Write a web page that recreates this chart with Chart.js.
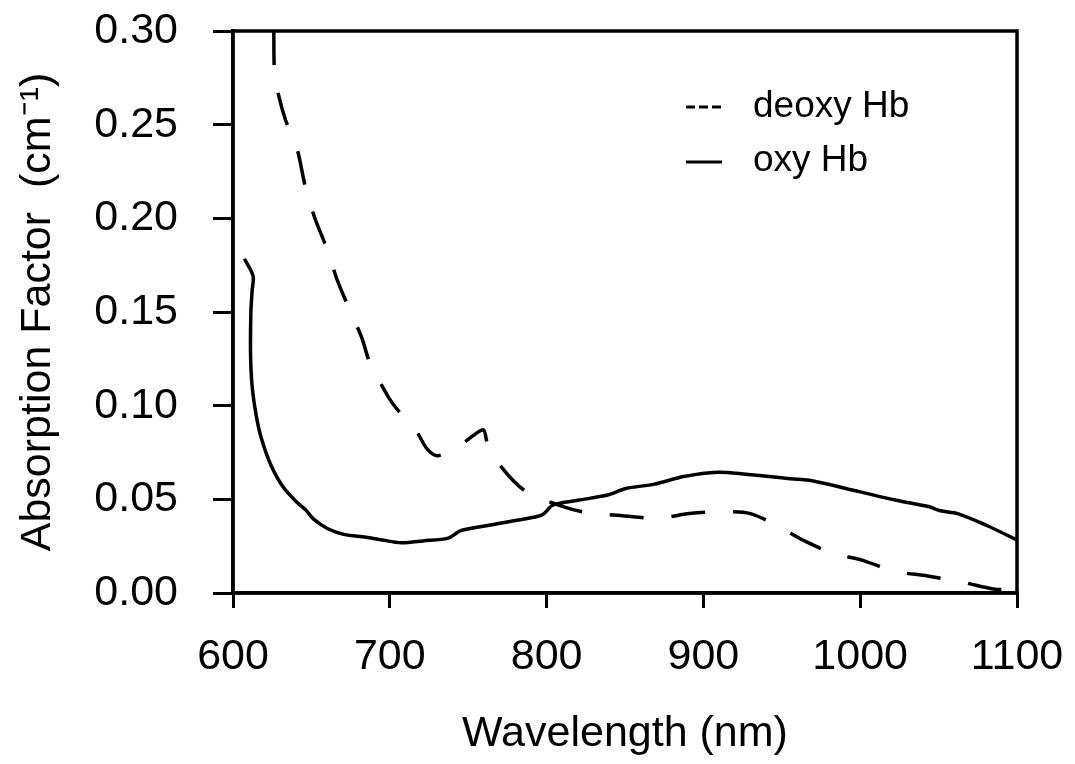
<!DOCTYPE html>
<html>
<head>
<meta charset="utf-8">
<script src="https://cdn.jsdelivr.net/npm/chart.js@4.4.1/dist/chart.umd.min.js"></script>
<style>
  html, body { margin: 0; padding: 0; background: #fff; }
  #wrap { width: 1075px; height: 764px; }
</style>
</head>
<body>
<div id="wrap"><canvas id="chart"></canvas></div>
<script>
const wavelengthTicks = [600, 700, 800, 900, 1000, 1100];
const absorptionTicks = [0, 0.05, 0.1, 0.15, 0.2, 0.25, 0.3];
const seriesLabels = ['deoxy Hb', 'oxy Hb'];

const deoxyWavelength = [626, 626.5, 629, 633.5, 641, 646, 652, 660, 666.5, 675, 682, 688, 694.5, 699.5, 705, 717.5, 724, 731, 747, 759.5, 762, 771.5, 787, 811, 826, 847, 871, 891, 912, 930, 948, 964.5, 982.5, 1000.5, 1022, 1043, 1066, 1086, 1096];
const deoxyAbsorption = [0.300, 0.278, 0.266, 0.2525, 0.2366, 0.2174, 0.2006, 0.1835, 0.167, 0.150, 0.1366, 0.1208, 0.1114, 0.104, 0.0977, 0.0855, 0.0767, 0.0733, 0.0802, 0.0872, 0.0808, 0.0669, 0.0541, 0.046, 0.0429, 0.0414, 0.0399, 0.0424, 0.0434, 0.0424, 0.0354, 0.0278, 0.0212, 0.0177, 0.0116, 0.0091, 0.0056, 0.002, 0.002];

const oxyWavelength = [607.3, 612.8, 612.2, 611.4, 611.2, 612.2, 614.8, 617.9, 624, 632.1, 641.3, 646.3, 651.4, 660.5, 670.7, 684.9, 695.1, 707.2, 721.1, 737.3, 745.2, 761.4, 791.6, 797.6, 804.2, 820.1, 838.9, 850.5, 868.8, 887.5, 909, 927.1, 955.4, 969.3, 999.4, 1023.1, 1044.1, 1051.1, 1062.2, 1081.1, 1100];
const oxyAbsorption = [0.1784, 0.1693, 0.1614, 0.150, 0.1272, 0.1104, 0.0948, 0.0831, 0.0686, 0.0564, 0.048, 0.0444, 0.0394, 0.0343, 0.0313, 0.0298, 0.0283, 0.0268, 0.0278, 0.0293, 0.0333, 0.0359, 0.0404, 0.0419, 0.047, 0.0495, 0.0523, 0.0558, 0.0581, 0.0622, 0.0645, 0.0634, 0.061, 0.0599, 0.0541, 0.0495, 0.046, 0.0439, 0.0424, 0.0359, 0.0283];

const toPoints = (xs, ys) => xs.map((x, i) => ({ x, y: ys[i] }));
const fontFamily = '"Liberation Sans", Arial, Helvetica, sans-serif';

Chart.defaults.font.family = fontFamily;
Chart.defaults.font.size = 43;
Chart.defaults.color = '#000';

// box round the plot plus the legend in the upper right corner
const frameAndLegend = {
    id: 'frameAndLegend',
    afterDraw(chart) {
        const { ctx, chartArea: a } = chart;
        ctx.save();
        ctx.strokeStyle = '#000';
        ctx.lineWidth = 3.5;
        ctx.strokeRect(a.left, a.top, a.right - a.left, a.bottom - a.top);

        const items = [
            { dash: [9, 4], lineY: 107, textY: 117 },
            { dash: [], lineY: 162, textY: 171 },
        ];
        ctx.font = `37px ${fontFamily}`;
        ctx.fillStyle = '#000';
        ctx.textBaseline = 'alphabetic';
        items.forEach((item, i) => {
            ctx.lineWidth = 3;
            ctx.setLineDash(item.dash);
            ctx.beginPath();
            ctx.moveTo(686, item.lineY);
            ctx.lineTo(722, item.lineY);
            ctx.stroke();
            ctx.setLineDash([]);
            ctx.fillText(seriesLabels[i], 753, item.textY);
        });
        ctx.restore();
    },
};

new Chart(document.getElementById('chart'), {
    type: 'line',
    data: {
        datasets: [
            {
                label: seriesLabels[0],
                data: toPoints(deoxyWavelength, deoxyAbsorption),
                borderColor: '#000',
                borderWidth: 3.5,
                borderDash: [34, 28],
                pointRadius: 0,
                tension: 0.3,
                fill: false,
            },
            {
                label: seriesLabels[1],
                data: toPoints(oxyWavelength, oxyAbsorption),
                borderColor: '#000',
                borderWidth: 3.5,
                pointRadius: 0,
                tension: 0.3,
                fill: false,
            },
        ],
    },
    options: {
        responsive: true,
        maintainAspectRatio: false,
        devicePixelRatio: 1,
        animation: false,
        layout: { padding: { top: 31, right: 58, left: 0, bottom: 0 } },
        scales: {
            x: {
                type: 'linear',
                min: 600,
                max: 1100,
                afterFit: (scale) => {
                    scale.height = 171;
                    scale.paddingLeft = 0;
                    scale.paddingRight = 0;
                },
                afterBuildTicks: (scale) => { scale.ticks = wavelengthTicks.map((v) => ({ value: v })); },
                ticks: { padding: 23, maxRotation: 0, callback: (v) => String(v) },
                grid: { drawOnChartArea: false, tickLength: 15, lineWidth: 3, color: '#000' },
                border: { color: '#000', width: 3.5 },
                title: { display: true, text: 'Wavelength (nm)', padding: { top: 0, bottom: 4 } },
            },
            y: {
                min: 0,
                max: 0.3,
                afterFit: (scale) => {
                    scale.width = 233;
                    scale.paddingTop = 0;
                    scale.paddingBottom = 0;
                },
                afterBuildTicks: (scale) => { scale.ticks = absorptionTicks.map((v) => ({ value: v })); },
                ticks: { padding: 35, callback: (v) => v.toFixed(2) },
                grid: { drawOnChartArea: false, tickLength: 20, lineWidth: 3, color: '#000' },
                border: { color: '#000', width: 3.5 },
                title: { display: true, text: 'Absorption Factor  (cm\u207B\u00B9)', padding: { top: 12, bottom: 0 } },
            },
        },
        plugins: {
            legend: { display: false },
            tooltip: { enabled: false },
        },
    },
    plugins: [frameAndLegend],
});
</script>
</body>
</html>
